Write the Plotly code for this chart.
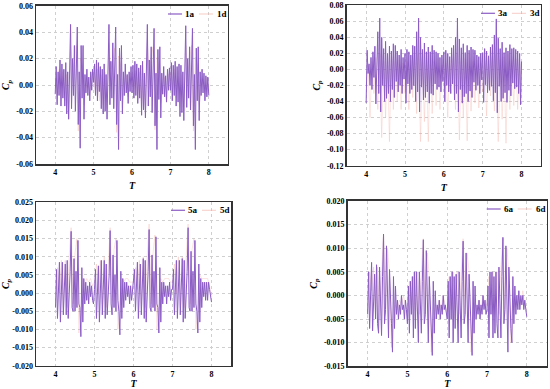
import numpy as np
import plotly.graph_objects as go

# ---------------- data ----------------
T_a = np.linspace(4.0, 8.0, 161)
T_d = np.linspace(4.0, 8.0, 81)

cp_1a = [
    -0.007, 0.014, -0.015, 0.010, -0.008, 0.019, -0.016, 0.016, -0.010, 0.012, -0.016, 0.017, -0.022, 0.010, -0.026, 0.005, 0.046, -0.018, 0.020, -0.008,
    0.030, -0.020, 0.012, 0.044, -0.030, 0.010, -0.048, 0.030, -0.010, 0.030, -0.026, 0.008, -0.006, 0.012, -0.008, 0.006, -0.012, 0.010, -0.004, 0.012,
    0.002, 0.016, -0.008, 0.019, -0.012, 0.017, -0.005, 0.014, -0.018, 0.012, -0.022, 0.016, -0.020, 0.008, -0.026, 0.010, 0.046, -0.015, 0.018, -0.010,
    0.032, -0.018, 0.010, 0.044, -0.030, 0.008, -0.049, 0.028, -0.012, 0.030, -0.022, 0.010, -0.008, 0.016, -0.006, 0.008, -0.014, 0.010, -0.005, 0.014,
    -0.006, 0.015, -0.010, 0.018, -0.008, 0.016, -0.014, 0.013, -0.010, 0.015, -0.023, 0.018, -0.019, 0.009, -0.025, 0.006, 0.046, -0.016, 0.019, -0.009,
    0.029, -0.021, 0.011, 0.043, -0.031, 0.009, -0.049, 0.027, -0.011, 0.029, -0.025, 0.009, -0.007, 0.014, -0.009, 0.007, -0.013, 0.012, -0.004, 0.013,
    -0.004, 0.017, -0.012, 0.015, -0.008, 0.018, -0.016, 0.014, -0.013, 0.016, -0.024, 0.015, -0.021, 0.010, -0.027, 0.006, 0.045, -0.017, 0.020, -0.010,
    0.029, -0.019, 0.012, 0.043, -0.031, 0.008, -0.049, 0.028, -0.012, 0.029, -0.027, 0.010, -0.008, 0.012, -0.006, 0.009, -0.012, 0.007, -0.009, 0.006,
    -0.008,
]
cp_1d = [
    0.005, -0.008, 0.012, -0.010, 0.010, -0.012, 0.008, -0.020, 0.030, 0.010, 0.020, 0.030, -0.035, 0.020, 0.015, -0.015, -0.004, 0.006, -0.008, 0.008,
    0.010, -0.006, 0.012, -0.012, 0.008, -0.015, 0.010, -0.018, 0.032, 0.012, 0.018, 0.028, -0.036, 0.022, 0.016, -0.012, -0.005, 0.007, -0.009, 0.009,
    0.008, -0.007, 0.011, -0.011, 0.010, -0.016, 0.009, -0.019, 0.031, 0.011, 0.020, 0.029, -0.034, 0.021, 0.014, -0.014, -0.004, 0.006, -0.008, 0.008,
    0.009, -0.006, 0.012, -0.010, 0.011, -0.017, 0.008, -0.020, 0.030, 0.010, 0.019, 0.030, -0.035, 0.021, 0.015, -0.015, -0.005, 0.005, -0.007, 0.006,
    -0.004,
]

cp_3a = [
    -0.042, 0.024, -0.005, 0.007, -0.020, 0.015, -0.025, 0.022, -0.010, 0.029, -0.043, 0.028, 0.047, -0.030, 0.064, -0.053, 0.040, -0.020, 0.026, -0.040,
    0.035, -0.036, 0.020, -0.030, 0.029, -0.040, 0.023, -0.025, 0.032, -0.035, 0.030, -0.015, 0.023, -0.028, 0.018, -0.020, 0.025, -0.030, 0.015, -0.012,
    0.020, -0.042, 0.025, -0.018, 0.022, -0.030, 0.018, -0.025, 0.030, -0.020, 0.029, -0.040, 0.047, -0.028, 0.064, -0.053, 0.040, -0.022, 0.025, -0.038,
    0.033, -0.035, 0.022, -0.028, 0.028, -0.042, 0.022, -0.030, 0.030, -0.032, 0.024, -0.018, 0.022, -0.025, 0.020, -0.022, 0.015, -0.028, 0.018, -0.015,
    0.022, -0.040, 0.024, -0.020, 0.020, -0.028, 0.016, -0.030, 0.027, -0.018, 0.030, -0.038, 0.040, -0.030, 0.064, -0.053, 0.038, -0.025, 0.027, -0.042,
    0.032, -0.034, 0.021, -0.030, 0.030, -0.040, 0.024, -0.027, 0.028, -0.035, 0.025, -0.016, 0.024, -0.026, 0.018, -0.020, 0.016, -0.030, 0.020, -0.013,
    0.021, -0.041, 0.026, -0.019, 0.023, -0.029, 0.017, -0.026, 0.028, -0.021, 0.031, -0.039, 0.043, -0.029, 0.063, -0.054, 0.039, -0.021, 0.026, -0.040,
    0.034, -0.036, 0.021, -0.029, 0.027, -0.041, 0.023, -0.026, 0.031, -0.033, 0.026, -0.017, 0.027, -0.024, 0.025, -0.022, 0.023, -0.030, 0.020, -0.044,
    0.010,
]
cp_3d = [
    -0.020, 0.005, -0.060, 0.010, -0.030, 0.015, -0.050, 0.020, -0.085, 0.010, -0.060, 0.015, -0.090, 0.020, -0.050, 0.010, -0.040, 0.012, -0.050, 0.008,
    -0.030, 0.010, -0.050, 0.012, -0.035, 0.018, -0.055, 0.020, -0.090, 0.012, -0.065, 0.015, -0.090, 0.018, -0.055, 0.010, -0.045, 0.014, -0.050, 0.006,
    -0.025, 0.008, -0.060, 0.012, -0.030, 0.016, -0.050, 0.020, -0.088, 0.011, -0.060, 0.014, -0.089, 0.020, -0.052, 0.010, -0.042, 0.012, -0.048, 0.008,
    -0.028, 0.010, -0.058, 0.012, -0.033, 0.017, -0.052, 0.020, -0.090, 0.012, -0.062, 0.016, -0.092, 0.019, -0.050, 0.011, -0.045, 0.013, -0.050, 0.007,
    -0.020,
]

cp_5a = [
    -0.004, 0.0065, -0.007, 0.000, 0.0085, -0.008, 0.001, 0.0085, -0.006, 0.003, 0.008, -0.006, 0.009, -0.007, -0.002, 0.006, 0.017, -0.004, -0.005, 0.0095,
    -0.005, 0.006, -0.004, 0.0145, -0.003, -0.004, -0.012, 0.007, -0.008, 0.004, -0.003, 0.003, -0.002, 0.002, -0.003, 0.003, -0.001, 0.002, -0.002, -0.003,
    0.001, 0.0065, -0.007, 0.001, 0.0075, -0.008, 0.002, 0.009, -0.006, 0.002, 0.009, -0.007, 0.008, -0.006, -0.002, 0.005, 0.0172, -0.003, -0.006, 0.0105,
    -0.004, 0.005, -0.005, 0.0145, -0.002, -0.005, -0.0115, 0.006, -0.007, 0.004, -0.004, 0.003, -0.002, 0.003, -0.001, 0.002, -0.003, 0.002, -0.002, 0.001,
    0.002, 0.0065, -0.005, 0.001, 0.0085, -0.007, 0.002, 0.008, -0.006, 0.003, 0.0095, -0.007, 0.009, -0.008, -0.002, 0.006, 0.0175, -0.004, -0.005, 0.0105,
    -0.004, 0.006, -0.005, 0.0155, -0.003, -0.004, -0.011, 0.007, -0.008, 0.003, -0.003, 0.003, -0.001, 0.002, -0.003, 0.002, -0.001, 0.003, -0.002, 0.001,
    0.001, 0.0065, -0.006, 0.001, 0.009, -0.007, 0.002, 0.009, -0.006, 0.003, 0.0095, -0.008, 0.009, -0.007, -0.002, 0.006, 0.018, -0.004, -0.005, 0.0115,
    -0.005, 0.006, -0.004, 0.0145, -0.003, -0.005, -0.011, 0.008, -0.008, 0.004, -0.004, 0.003, -0.001, 0.003, -0.002, 0.003, -0.002, 0.003, 0.001, -0.001,
    -0.0025,
]
cp_5d = [
    -0.003, 0.007, 0.000, 0.009, -0.004, 0.009, -0.004, 0.010, 0.018, -0.003, 0.011, 0.015, -0.011, -0.006, 0.004, 0.002, 0.004, 0.003, 0.004, 0.002,
    0.003, 0.008, 0.000, 0.009, -0.003, 0.010, -0.004, 0.009, 0.018, -0.002, 0.012, 0.015, -0.010, -0.005, 0.004, 0.003, 0.004, 0.004, 0.003, 0.003,
    0.003, 0.007, 0.001, 0.009, -0.003, 0.010, -0.004, 0.010, 0.019, -0.003, 0.011, 0.016, -0.010, -0.006, 0.004, 0.003, 0.004, 0.004, 0.004, 0.003,
    0.003, 0.008, 0.000, 0.010, -0.004, 0.010, -0.004, 0.010, 0.019, -0.003, 0.012, 0.015, -0.010, -0.005, 0.005, 0.004, 0.004, 0.004, 0.004, 0.002,
    -0.001,
]

cp_6a = [
    -0.004, 0.005, -0.007, 0.000, 0.007, -0.0075, 0.000, 0.0045, -0.005, 0.0065, -0.006, -0.008, 0.006, -0.004, -0.0085, 0.004, 0.013, -0.006, -0.003, 0.0105,
    -0.005, -0.009, 0.0055, -0.003, -0.006, -0.012, 0.004, -0.007, 0.002, -0.004, -0.001, -0.005, -0.002, -0.004, 0.000, -0.003, -0.002, -0.005, -0.001, -0.003,
    -0.006, 0.002, -0.008, 0.003, -0.004, 0.004, -0.009, 0.005, -0.007, 0.005, -0.006, -0.010, 0.005, -0.005, -0.008, 0.003, 0.0118, -0.006, -0.004, 0.0095,
    -0.006, -0.010, 0.004, -0.002, -0.007, -0.0127, 0.003, -0.008, 0.001, -0.005, -0.002, -0.004, -0.001, -0.005, -0.002, -0.004, 0.000, -0.003, -0.002, -0.004,
    -0.005, 0.003, -0.009, 0.004, -0.005, 0.005, -0.010, 0.004, -0.007, 0.0045, -0.006, -0.010, 0.005, -0.004, -0.009, 0.003, 0.0115, -0.006, -0.004, 0.009,
    -0.006, -0.010, 0.0045, -0.002, -0.007, -0.0127, 0.003, -0.008, 0.002, -0.005, -0.002, -0.004, -0.001, -0.005, -0.002, -0.004, 0.000, -0.003, -0.001, -0.004,
    -0.003, 0.002, -0.009, 0.005, -0.004, 0.005, -0.009, 0.004, -0.008, 0.005, -0.006, -0.009, 0.006, -0.004, -0.009, 0.004, 0.0123, -0.006, -0.003, 0.0105,
    -0.005, -0.012, 0.006, -0.003, -0.007, -0.010, 0.004, -0.006, 0.002, -0.004, 0.000, -0.003, 0.001, -0.003, 0.000, -0.002, 0.000, -0.003, -0.001, -0.003,
    -0.0045,
]
cp_6d = [
    -0.003, 0.005, 0.001, 0.006, -0.004, 0.006, -0.005, 0.006, 0.013, -0.004, 0.010, 0.005, -0.011, -0.005, -0.002, -0.003, -0.001, -0.002, 0.000, -0.002,
    -0.004, 0.003, -0.002, 0.004, -0.005, 0.005, -0.004, 0.005, 0.012, -0.004, 0.009, 0.004, -0.012, -0.006, -0.002, -0.003, -0.001, -0.003, 0.000, -0.002,
    -0.004, 0.004, -0.003, 0.005, -0.005, 0.005, -0.004, 0.005, 0.012, -0.004, 0.009, 0.005, -0.012, -0.006, -0.002, -0.003, -0.001, -0.003, 0.000, -0.002,
    -0.002, 0.004, -0.002, 0.005, -0.004, 0.005, -0.004, 0.006, 0.012, -0.004, 0.010, 0.005, -0.010, -0.005, -0.001, -0.002, 0.000, -0.002, 0.001, -0.002,
    -0.003,
]

x_ticks = [4, 5, 6, 7, 8]
x_ticktext = ["4", "5", "6", "7", "8"]
y1_ticks = [-0.06, -0.04, -0.02, 0.0, 0.02, 0.04, 0.06]
y1_text = ["-0.06", "-0.04", "-0.02", "0.00", "0.02", "0.04", "0.06"]
y2_ticks = [-0.12, -0.10, -0.08, -0.06, -0.04, -0.02, 0.0, 0.02, 0.04, 0.06, 0.08]
y2_text = ["-0.12", "-0.10", "-0.08", "-0.06", "-0.04", "-0.02", "0.00", "0.02", "0.04", "0.06", "0.08"]
y3_ticks = [-0.020, -0.015, -0.010, -0.005, 0.0, 0.005, 0.010, 0.015, 0.020, 0.025]
y3_text = ["-0.020", "-0.015", "-0.010", "-0.005", "0.000", "0.005", "0.010", "0.015", "0.020", "0.025"]
y4_ticks = [-0.015, -0.010, -0.005, 0.0, 0.005, 0.010, 0.015, 0.020]
y4_text = ["-0.015", "-0.010", "-0.005", "0.000", "0.005", "0.010", "0.015", "0.020"]

# ---------------- style ----------------
FONT = "Liberation Serif"
PURPLE = "#8b5cc4"
PINK = "rgba(242,170,160,0.38)"
PINK_LEG = "rgba(242,170,160,0.6)"
W, H = 550, 389

panels = [
    dict(a=cp_1a, d=cp_1d, na="1a", nd="1d", yt=y1_ticks, ytt=y1_text, yr=[-0.06, 0.06],
         dx=[0.0655, 0.4145], dy=[0.5784, 0.9846]),
    dict(a=cp_3a, d=cp_3d, na="3a", nd="3d", yt=y2_ticks, ytt=y2_text, yr=[-0.12, 0.08],
         dx=[0.6304, 0.9836], dy=[0.574, 0.9864]),
    dict(a=cp_5a, d=cp_5d, na="5a", nd="5d", yt=y3_ticks, ytt=y3_text, yr=[-0.02, 0.025],
         dx=[0.0655, 0.42], dy=[0.0599, 0.48]),
    dict(a=cp_6a, d=cp_6d, na="6a", nd="6d", yt=y4_ticks, ytt=y4_text, yr=[-0.015, 0.02],
         dx=[0.6322, 0.994], dy=[0.0584, 0.4833]),
]

fig = go.Figure()
layout = dict(
    width=W, height=H,
    margin=dict(l=0, r=0, t=0, b=0),
    paper_bgcolor="white", plot_bgcolor="white",
    font=dict(family=FONT, color="black", size=8),
    showlegend=False,
    hovermode=False,
)
annotations = []
shapes = []
legfont = dict(family=FONT, size=9, color="black", weight="bold")

for i, p in enumerate(panels):
    n = i + 1
    xa = "x" if n == 1 else f"x{n}"
    ya = "y" if n == 1 else f"y{n}"
    fig.add_trace(go.Scatter(x=T_d, y=p["d"], mode="lines", name=p["nd"],
                             line=dict(color=PINK, width=0.8), xaxis=xa, yaxis=ya))
    fig.add_trace(go.Scatter(x=T_a, y=p["a"], mode="lines", name=p["na"],
                             line=dict(color=PURPLE, width=1), xaxis=xa, yaxis=ya))
    axkey_x = "xaxis" if n == 1 else f"xaxis{n}"
    axkey_y = "yaxis" if n == 1 else f"yaxis{n}"
    common = dict(showline=True, linecolor="#333333", linewidth=1.5, mirror=True,
                  showgrid=True, gridcolor="#cfcfcf", griddash="dot", gridwidth=1,
                  zeroline=False, ticks="", automargin=False,
                  tickfont=dict(family=FONT, size=8, color="black", weight="bold"))
    layout[axkey_x] = dict(common, domain=p["dx"], range=[3.5, 8.5], tickvals=x_ticks,
                           ticktext=x_ticktext, anchor=ya,
                           title=dict(text="<b><i>T</i></b>", font=dict(family=FONT, size=10), standoff=6))
    layout[axkey_y] = dict(common, domain=p["dy"], range=p["yr"], tickvals=p["yt"],
                           ticktext=p["ytt"], anchor=xa,
                           title=dict(text="<b><i>C<sub>p</sub></i></b>", font=dict(family=FONT, size=10), standoff=4))
    # legend (drawn as text + sample lines inside the top right corner)
    x1 = p["dx"][1]
    yl = p["dy"][1] - 8 / H
    px = 1 / W
    shapes.append(dict(type="line", xref="paper", yref="paper", x0=x1 - 60 * px, x1=x1 - 46 * px,
                       y0=yl, y1=yl, line=dict(color=PURPLE, width=1.2)))
    shapes.append(dict(type="line", xref="paper", yref="paper", x0=x1 - 29 * px, x1=x1 - 15 * px,
                       y0=yl, y1=yl, line=dict(color=PINK_LEG, width=1)))
    annotations.append(dict(text=p["na"], xref="paper", yref="paper", x=x1 - 45 * px, y=yl,
                            xanchor="left", yanchor="middle", showarrow=False, font=legfont))
    annotations.append(dict(text=p["nd"], xref="paper", yref="paper", x=x1 - 13 * px, y=yl,
                            xanchor="left", yanchor="middle", showarrow=False, font=legfont))

layout["annotations"] = annotations
layout["shapes"] = shapes
fig.update_layout(**layout)
fig.write_html("out.html", config={"displayModeBar": False, "staticPlot": True},
               post_script="document.body.style.margin='0';document.body.style.padding='0';")
